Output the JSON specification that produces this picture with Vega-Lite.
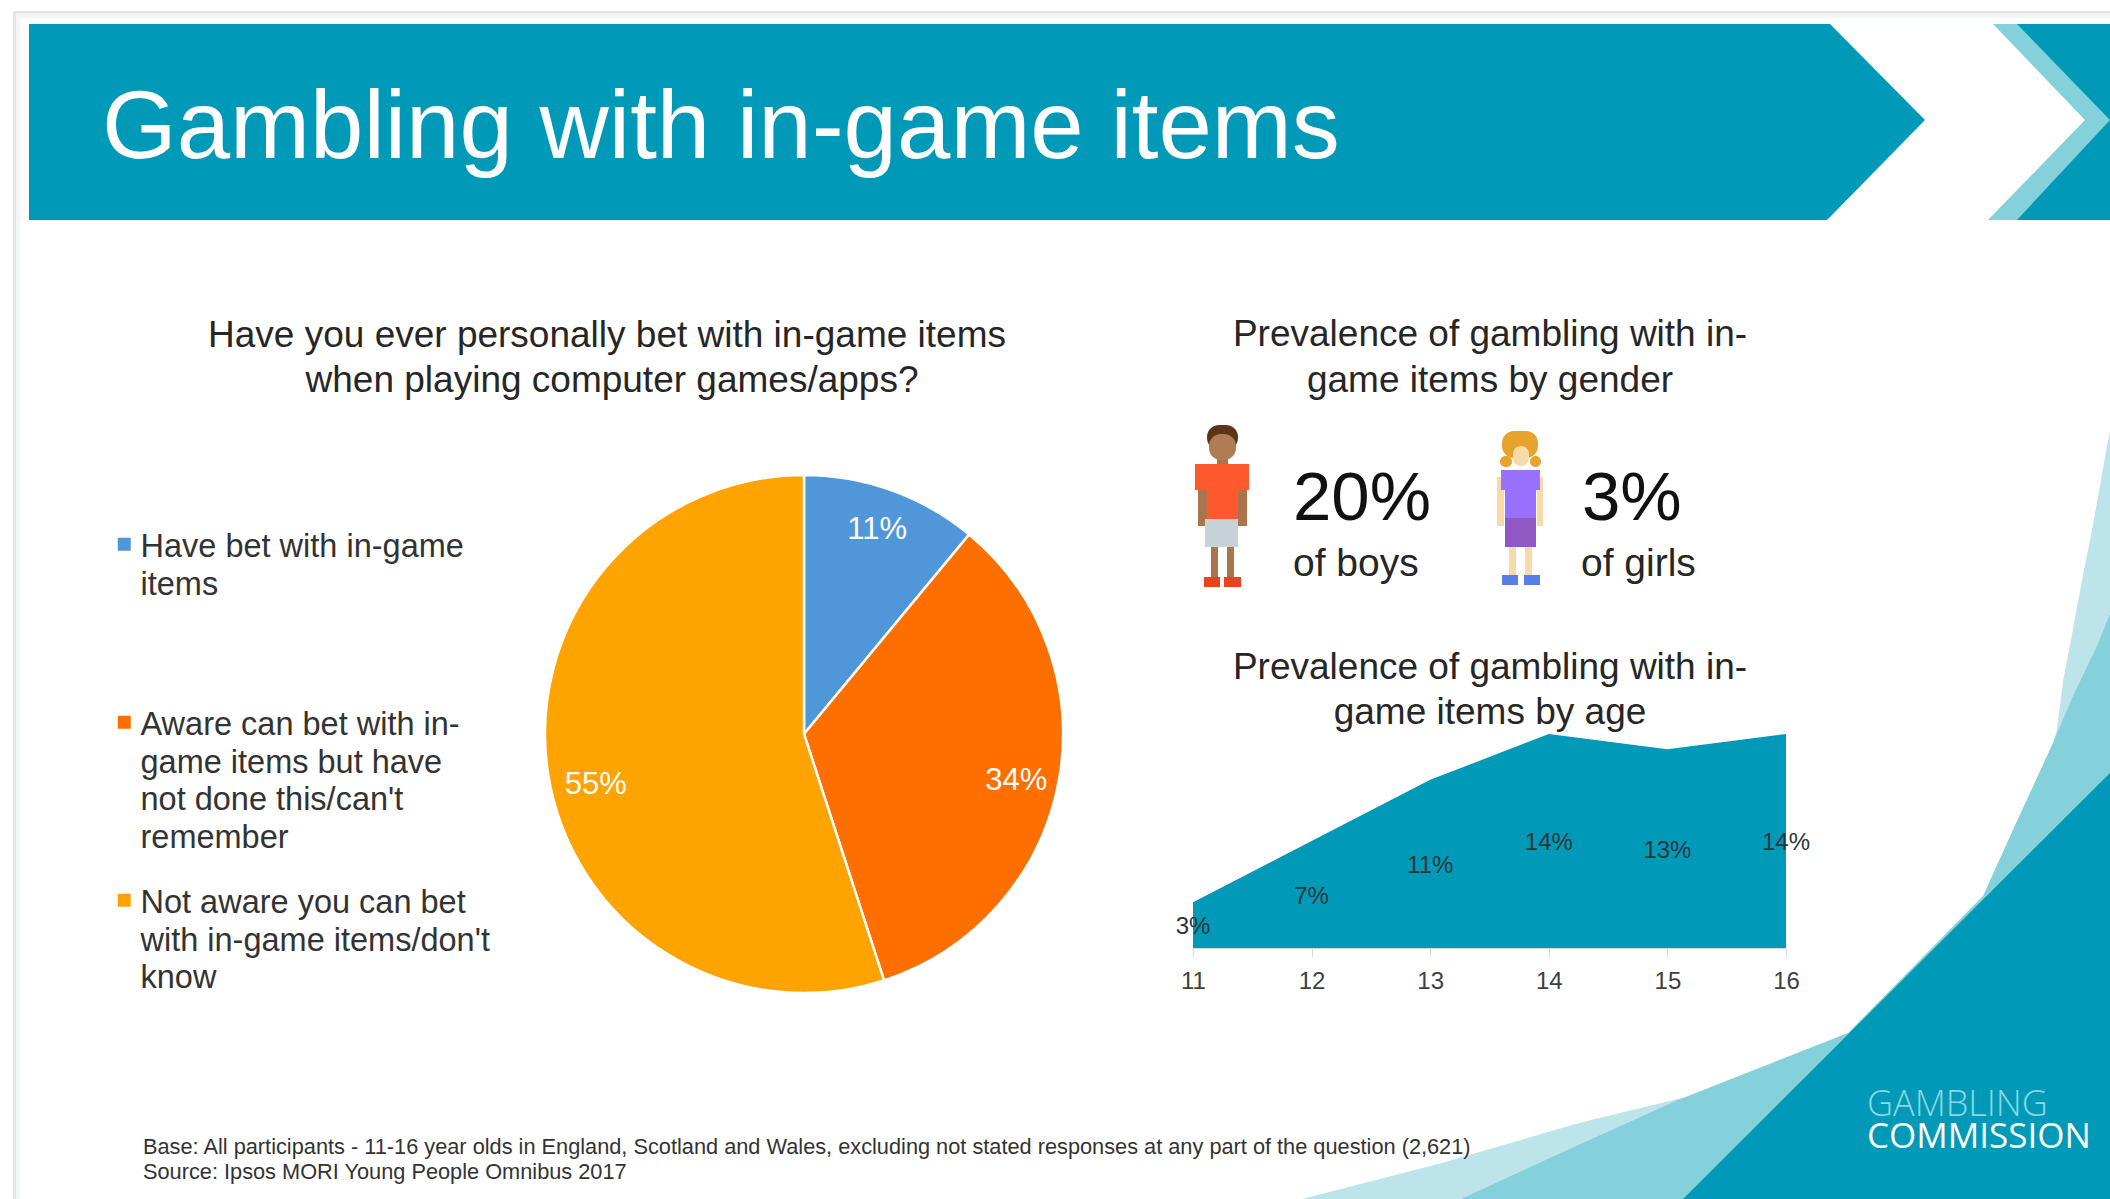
{
  "$schema": "https://vega.github.io/schema/vega-lite/v6.json",
  "width": 2110,
  "height": 1199,
  "padding": 0,
  "autosize": {"type": "none"},
  "background": "#ffffff",
  "config": {"view": {"stroke": null}, "font": "Liberation Sans"},
  "datasets": {
    "slideFrame": [
      {"part": "frame line", "x": 13, "x2": 2110, "y": 11, "y2": 1199},
      {"part": "frame tint", "x": 16, "x2": 2110, "y": 13, "y2": 1199},
      {"part": "paper", "x": 20, "x2": 2110, "y": 18, "y2": 1199}
    ],
    "slideShapes": [
      {"shape": "a banner", "tone": "teal", "x": 29, "top": 24, "bottom": 220},
      {"shape": "a banner", "tone": "teal", "x": 1827, "top": 24, "bottom": 220},
      {"shape": "a banner", "tone": "teal", "x": 1830, "top": 24, "bottom": 217},
      {"shape": "a banner", "tone": "teal", "x": 1925, "top": 120, "bottom": 120},
      {"shape": "b chevron upper", "tone": "aqua", "x": 1993, "top": 24, "bottom": 24},
      {"shape": "b chevron upper", "tone": "aqua", "x": 2085, "top": 24, "bottom": 120},
      {"shape": "b chevron upper", "tone": "aqua", "x": 2110, "top": 24, "bottom": 120},
      {"shape": "c chevron lower", "tone": "aqua", "x": 1988, "top": 220, "bottom": 220},
      {"shape": "c chevron lower", "tone": "aqua", "x": 2085, "top": 120, "bottom": 220},
      {"shape": "c chevron lower", "tone": "aqua", "x": 2110, "top": 120, "bottom": 220},
      {"shape": "d tip upper", "tone": "teal", "x": 2017, "top": 24, "bottom": 24},
      {"shape": "d tip upper", "tone": "teal", "x": 2110, "top": 24, "bottom": 120},
      {"shape": "e tip lower", "tone": "teal", "x": 2017, "top": 220, "bottom": 220},
      {"shape": "e tip lower", "tone": "teal", "x": 2110, "top": 120, "bottom": 220},
      {"shape": "f swoosh pale low", "tone": "pale", "x": 1302, "top": 1199, "bottom": 1199},
      {"shape": "f swoosh pale low", "tone": "pale", "x": 1442, "top": 1163, "bottom": 1199},
      {"shape": "f swoosh pale low", "tone": "pale", "x": 1579, "top": 1123, "bottom": 1199},
      {"shape": "f swoosh pale low", "tone": "pale", "x": 1727, "top": 1087, "bottom": 1199},
      {"shape": "f swoosh pale low", "tone": "pale", "x": 1848, "top": 1033, "bottom": 1199},
      {"shape": "g swoosh pale high", "tone": "pale", "x": 2053, "top": 745, "bottom": 800},
      {"shape": "g swoosh pale high", "tone": "pale", "x": 2057, "top": 729, "bottom": 800},
      {"shape": "g swoosh pale high", "tone": "pale", "x": 2063, "top": 682, "bottom": 800},
      {"shape": "g swoosh pale high", "tone": "pale", "x": 2073, "top": 629, "bottom": 800},
      {"shape": "g swoosh pale high", "tone": "pale", "x": 2083, "top": 575, "bottom": 800},
      {"shape": "g swoosh pale high", "tone": "pale", "x": 2093, "top": 525, "bottom": 800},
      {"shape": "g swoosh pale high", "tone": "pale", "x": 2107, "top": 446, "bottom": 800},
      {"shape": "g swoosh pale high", "tone": "pale", "x": 2110, "top": 432, "bottom": 800},
      {"shape": "h swoosh aqua", "tone": "aqua", "x": 1461, "top": 1199, "bottom": 1199},
      {"shape": "h swoosh aqua", "tone": "aqua", "x": 1552, "top": 1157, "bottom": 1199},
      {"shape": "h swoosh aqua", "tone": "aqua", "x": 1678, "top": 1100, "bottom": 1199},
      {"shape": "h swoosh aqua", "tone": "aqua", "x": 1848, "top": 1033, "bottom": 1199},
      {"shape": "h swoosh aqua", "tone": "aqua", "x": 1983, "top": 896, "bottom": 1199},
      {"shape": "h swoosh aqua", "tone": "aqua", "x": 2017, "top": 821, "bottom": 1199},
      {"shape": "h swoosh aqua", "tone": "aqua", "x": 2053, "top": 743, "bottom": 1199},
      {"shape": "h swoosh aqua", "tone": "aqua", "x": 2073, "top": 696, "bottom": 1199},
      {"shape": "h swoosh aqua", "tone": "aqua", "x": 2097, "top": 646, "bottom": 1199},
      {"shape": "h swoosh aqua", "tone": "aqua", "x": 2110, "top": 614, "bottom": 1199},
      {"shape": "i corner", "tone": "teal", "x": 1683, "top": 1199, "bottom": 1199},
      {"shape": "i corner", "tone": "teal", "x": 2110, "top": 773, "bottom": 1199}
    ],
    "figureParts": [
      {"part": "boy skin", "x": 1198, "x2": 1247, "y": 480, "y2": 526},
      {"part": "boy skin", "x": 1217, "x2": 1228, "y": 450, "y2": 466},
      {"part": "boy shirt", "x": 1195, "x2": 1249, "y": 464, "y2": 490},
      {"part": "boy shirt", "x": 1207, "x2": 1238, "y": 464, "y2": 520},
      {"part": "boy shorts", "x": 1205, "x2": 1238, "y": 519, "y2": 547},
      {"part": "boy skin", "x": 1211, "x2": 1218, "y": 547, "y2": 578},
      {"part": "boy skin", "x": 1227, "x2": 1234, "y": 547, "y2": 578},
      {"part": "boy shoe", "x": 1204, "x2": 1220, "y": 577, "y2": 587},
      {"part": "boy shoe", "x": 1224, "x2": 1241, "y": 577, "y2": 587},
      {"part": "girl skin", "x": 1497, "x2": 1504, "y": 477, "y2": 526},
      {"part": "girl skin", "x": 1537, "x2": 1543, "y": 477, "y2": 526},
      {"part": "girl top", "x": 1501, "x2": 1540, "y": 470, "y2": 490},
      {"part": "girl top", "x": 1505, "x2": 1536, "y": 470, "y2": 520},
      {"part": "girl skirt", "x": 1505, "x2": 1536, "y": 518, "y2": 547},
      {"part": "girl skin", "x": 1509, "x2": 1516, "y": 547, "y2": 576},
      {"part": "girl skin", "x": 1525, "x2": 1532, "y": 547, "y2": 576},
      {"part": "girl shoe", "x": 1502, "x2": 1518, "y": 575, "y2": 585},
      {"part": "girl shoe", "x": 1524, "x2": 1540, "y": 575, "y2": 585}
    ],
    "figureHeads": [
      {"part": "boy hair", "x": 1207, "x2": 1238, "y": 425, "y2": 450},
      {"part": "boy skin", "x": 1209, "x2": 1236, "y": 434, "y2": 460},
      {"part": "girl hair", "x": 1502, "x2": 1538, "y": 431, "y2": 458},
      {"part": "girl hair", "x": 1500, "x2": 1512, "y": 456, "y2": 467},
      {"part": "girl hair", "x": 1530, "x2": 1541, "y": 456, "y2": 467},
      {"part": "girl skin", "x": 1513, "x2": 1529, "y": 446, "y2": 466}
    ],
    "pieShares": [
      {"rank": 1, "answer": "Have bet with in-game items", "share": 11, "label": "11%"},
      {"rank": 2, "answer": "Aware can bet with in-game items but have not done this/can't remember", "share": 34, "label": "34%"},
      {"rank": 3, "answer": "Not aware you can bet with in-game items/don't know", "share": 55, "label": "55%"}
    ],
    "ageShares": [
      {"age": 11, "pct": 3, "label": "3%"},
      {"age": 12, "pct": 7, "label": "7%"},
      {"age": 13, "pct": 11, "label": "11%"},
      {"age": 14, "pct": 14, "label": "14%"},
      {"age": 15, "pct": 13, "label": "13%"},
      {"age": 16, "pct": 14, "label": "14%"}
    ]
  },
  "layer": [
    {
      "layer": [
        {
          "data": {"name": "slideFrame"},
          "mark": {"type": "rect"},
          "encoding": {
            "x": {"field": "x", "type": "quantitative", "scale": {"domain": [0, 2110]}, "axis": null},
            "x2": {"field": "x2"},
            "y": {"field": "y", "type": "quantitative", "scale": {"domain": [0, 1199], "reverse": true}, "axis": null},
            "y2": {"field": "y2"},
            "color": {
              "field": "part", "type": "nominal", "legend": null,
              "scale": {"domain": ["frame line", "frame tint", "paper"], "range": ["#e4e6e6", "#f3f6f6", "#ffffff"]}
            }
          }
        }
      ]
    },
    {
      "data": {"name": "slideShapes"},
      "mark": {"type": "area", "interpolate": "linear"},
      "encoding": {
        "x": {"field": "x", "type": "quantitative", "scale": {"domain": [0, 2110]}, "axis": null},
        "y": {"field": "top", "type": "quantitative", "scale": {"domain": [0, 1199], "reverse": true}, "axis": null, "stack": null},
        "y2": {"field": "bottom"},
        "detail": {"field": "shape"},
        "color": {
          "field": "tone", "type": "nominal", "legend": null,
          "scale": {"domain": ["teal", "aqua", "pale"], "range": ["#009ab8", "#84d0db", "#bce4ea"]}
        }
      }
    },
    {
      "data": {"name": "figureParts"},
      "mark": {"type": "rect"},
      "encoding": {
        "x": {"field": "x", "type": "quantitative", "scale": {"domain": [0, 2110]}, "axis": null},
        "x2": {"field": "x2"},
        "y": {"field": "y", "type": "quantitative", "scale": {"domain": [0, 1199], "reverse": true}, "axis": null},
        "y2": {"field": "y2"},
        "color": {
          "field": "part", "type": "nominal", "legend": null,
          "scale": {
            "domain": ["boy skin", "boy shirt", "boy shorts", "boy shoe", "girl skin", "girl top", "girl skirt", "girl shoe"],
            "range": ["#a9744e", "#ff5a2e", "#c6d1d8", "#e5441c", "#f6dba8", "#9a70ff", "#9058c2", "#5a7ee8"]
          }
        }
      }
    },
    {
      "data": {"name": "figureHeads"},
      "mark": {"type": "rect", "cornerRadius": 12},
      "encoding": {
        "x": {"field": "x", "type": "quantitative", "scale": {"domain": [0, 2110]}, "axis": null},
        "x2": {"field": "x2"},
        "y": {"field": "y", "type": "quantitative", "scale": {"domain": [0, 1199], "reverse": true}, "axis": null},
        "y2": {"field": "y2"},
        "color": {
          "field": "part", "type": "nominal", "legend": null,
          "scale": {"domain": ["boy hair", "boy skin", "girl hair", "girl skin"], "range": ["#5c3518", "#b07c54", "#e8a32c", "#f6dba8"]}
        }
      }
    },
    {
      "data": {"name": "ageShares"},
      "mark": {"type": "area", "interpolate": "linear", "color": "#009ab8"},
      "encoding": {
        "x": {
          "field": "age", "type": "quantitative",
          "scale": {"domain": [11, 16], "range": [1193, 1786], "nice": false},
          "axis": {
            "title": null, "values": [11, 12, 13, 14, 15, 16], "format": "d", "grid": false, "zindex": 1,
            "offset": -251, "domainColor": "#d9d9d9", "tickColor": "#d9d9d9", "tickSize": 9,
            "labelFontSize": 24, "labelColor": "#404040", "labelPadding": 12, "labelFlush": false,
            "labelFont": "Liberation Sans"
          }
        },
        "y": {"field": "pct", "type": "quantitative", "scale": {"domain": [0, 14], "range": [948, 734], "nice": false}, "axis": null}
      }
    },
    {
      "data": {"name": "ageShares"},
      "mark": {"type": "text", "fontSize": 24, "color": "#26363c", "baseline": "middle"},
      "encoding": {
        "x": {"field": "age", "type": "quantitative", "scale": {"domain": [11, 16], "range": [1193, 1786], "nice": false}, "axis": null},
        "y": {"field": "pct", "type": "quantitative", "scale": {"domain": [0, 28], "range": [950, 736], "nice": false}, "axis": null},
        "text": {"field": "label"}
      }
    },
    {
      "data": {"name": "pieShares"},
      "mark": {"type": "arc", "outerRadius": 259, "stroke": "#ffffff", "strokeWidth": 2.5},
      "encoding": {
        "x": {"datum": 804, "scale": {"domain": [0, 2110]}, "axis": null},
        "y": {"datum": 734, "scale": {"domain": [0, 1199], "reverse": true}, "axis": null},
        "theta": {"field": "share", "type": "quantitative", "stack": true},
        "order": {"field": "rank", "type": "ordinal"},
        "color": {
          "field": "answer", "type": "nominal", "sort": null,
          "scale": {
            "domain": [
              "Have bet with in-game items",
              "Aware can bet with in-game items but have not done this/can't remember",
              "Not aware you can bet with in-game items/don't know"
            ],
            "range": ["#4f97d8", "#ff6f00", "#ffa300"]
          },
          "legend": {
            "title": null, "orient": "none", "legendX": 108, "legendY": 528,
            "symbolType": "square", "symbolSize": 169, "symbolStrokeWidth": 0,
            "labelFontSize": 32.5, "labelColor": "#333333", "labelLimit": 0, "labelOffset": 0,
            "labelFont": "Liberation Sans",
            "gridAlign": "all", "rowPadding": 29, "symbolBaseline": "top", "labelBaseline": "top",
            "encoding": {"labels": {"lineHeight": {"value": 37.5}, "dy": {"value": -13}}},
            "labelExpr": "datum.label == 'Have bet with in-game items' ? ['Have bet with in-game', 'items'] : datum.label == 'Not aware you can bet with in-game items/don\\'t know' ? ['Not aware you can bet', 'with in-game items/don\\'t', 'know'] : ['Aware can bet with in-', 'game items but have', 'not done this/can\\'t', 'remember']"
          }
        }
      }
    },
    {
      "data": {"name": "pieShares"},
      "mark": {
        "type": "text", "radius": 216, "fontSize": 31, "color": "#ffffff", "baseline": "middle",
        "dx": {"expr": "datum.rank == 3 ? 5 : 0"},
        "dy": {"expr": "datum.rank == 3 ? 17 : datum.rank == 2 ? 7 : -1"}
      },
      "encoding": {
        "x": {"datum": 804, "scale": {"domain": [0, 2110]}, "axis": null},
        "y": {"datum": 734, "scale": {"domain": [0, 1199], "reverse": true}, "axis": null},
        "theta": {"field": "share", "type": "quantitative", "stack": true},
        "order": {"field": "rank", "type": "ordinal"},
        "text": {"field": "label"}
      }
    },
    {
      "data": {"values": [
        {"line": "Gambling with in-game items", "x": 102, "y": 129}
      ]},
      "mark": {"type": "text", "fontSize": 96, "align": "left", "baseline": "middle", "color": "#ffffff"},
      "encoding": {
        "x": {"field": "x", "type": "quantitative", "scale": {"domain": [0, 2110]}, "axis": null},
        "y": {"field": "y", "type": "quantitative", "scale": {"domain": [0, 1199], "reverse": true}, "axis": null},
        "text": {"field": "line"}
      }
    },
    {
      "data": {"values": [
        {"line": "Have you ever personally bet with in-game items", "x": 607, "y": 336},
        {"line": "when playing computer games/apps?", "x": 612, "y": 381},
        {"line": "Prevalence of gambling with in-", "x": 1490, "y": 335},
        {"line": "game items by gender", "x": 1490, "y": 381},
        {"line": "Prevalence of gambling with in-", "x": 1490, "y": 668},
        {"line": "game items by age", "x": 1490, "y": 713}
      ]},
      "mark": {"type": "text", "fontSize": 37, "align": "center", "baseline": "middle", "color": "#262626"},
      "encoding": {
        "x": {"field": "x", "type": "quantitative", "scale": {"domain": [0, 2110]}, "axis": null},
        "y": {"field": "y", "type": "quantitative", "scale": {"domain": [0, 1199], "reverse": true}, "axis": null},
        "text": {"field": "line"}
      }
    },
    {
      "data": {"values": [
        {"line": "20%", "x": 1293, "y": 499},
        {"line": "3%", "x": 1582, "y": 499}
      ]},
      "mark": {"type": "text", "fontSize": 69, "align": "left", "baseline": "middle", "color": "#111111"},
      "encoding": {
        "x": {"field": "x", "type": "quantitative", "scale": {"domain": [0, 2110]}, "axis": null},
        "y": {"field": "y", "type": "quantitative", "scale": {"domain": [0, 1199], "reverse": true}, "axis": null},
        "text": {"field": "line"}
      }
    },
    {
      "data": {"values": [
        {"line": "of boys", "x": 1293, "y": 564},
        {"line": "of girls", "x": 1581, "y": 564}
      ]},
      "mark": {"type": "text", "fontSize": 39, "align": "left", "baseline": "middle", "color": "#262626"},
      "encoding": {
        "x": {"field": "x", "type": "quantitative", "scale": {"domain": [0, 2110]}, "axis": null},
        "y": {"field": "y", "type": "quantitative", "scale": {"domain": [0, 1199], "reverse": true}, "axis": null},
        "text": {"field": "line"}
      }
    },
    {
      "data": {"values": [
        {"line": "Base: All participants - 11-16 year olds in England, Scotland and Wales, excluding not stated responses at any part of the question (2,621)", "x": 143, "y": 1147},
        {"line": "Source: Ipsos MORI Young People Omnibus 2017", "x": 143, "y": 1172}
      ]},
      "mark": {"type": "text", "fontSize": 21.75, "align": "left", "baseline": "middle", "color": "#333333"},
      "encoding": {
        "x": {"field": "x", "type": "quantitative", "scale": {"domain": [0, 2110]}, "axis": null},
        "y": {"field": "y", "type": "quantitative", "scale": {"domain": [0, 1199], "reverse": true}, "axis": null},
        "text": {"field": "line"}
      }
    },
    {
      "data": {"values": [{"line": "GAMBLING", "x": 1867, "y": 1105}]},
      "mark": {"type": "text", "font": "Open Sans", "fontWeight": 300, "fontSize": 36, "align": "left", "baseline": "middle", "color": "#8fd6e0"},
      "encoding": {
        "x": {"field": "x", "type": "quantitative", "scale": {"domain": [0, 2110]}, "axis": null},
        "y": {"field": "y", "type": "quantitative", "scale": {"domain": [0, 1199], "reverse": true}, "axis": null},
        "text": {"field": "line"}
      }
    },
    {
      "data": {"values": [{"line": "COMMISSION", "x": 1867, "y": 1137}]},
      "mark": {"type": "text", "font": "Open Sans", "fontSize": 35, "align": "left", "baseline": "middle", "color": "#ffffff"},
      "encoding": {
        "x": {"field": "x", "type": "quantitative", "scale": {"domain": [0, 2110]}, "axis": null},
        "y": {"field": "y", "type": "quantitative", "scale": {"domain": [0, 1199], "reverse": true}, "axis": null},
        "text": {"field": "line"}
      }
    }
  ],
  "resolve": {
    "scale": {"x": "independent", "y": "independent", "color": "independent", "theta": "independent"},
    "axis": {"x": "independent", "y": "independent"},
    "legend": {"color": "independent"}
  }
}
